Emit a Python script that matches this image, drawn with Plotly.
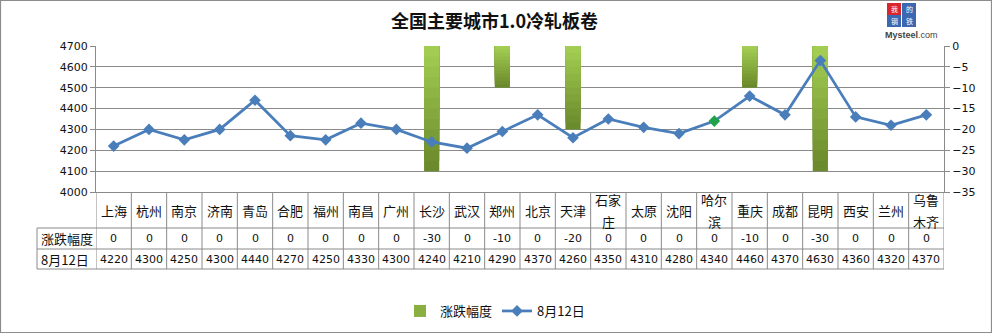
import plotly.graph_objects as go

# ---------------- data ----------------
title_text = "全国主要城市1.0冷轧板卷"
cities = ["上海", "杭州", "南京", "济南", "青岛", "合肥", "福州", "南昌", "广州", "长沙",
          "武汉", "郑州", "北京", "天津", "石家庄", "太原", "沈阳", "哈尔滨", "重庆", "成都",
          "昆明", "西安", "兰州", "乌鲁木齐"]
change_name = "涨跌幅度"
changes = [0, 0, 0, 0, 0, 0, 0, 0, 0, -30, 0, -10, 0, -20, 0, 0, 0, 0, -10, 0, -30, 0, 0, 0]
price_name = "8月12日"
prices = [4220, 4300, 4250, 4300, 4440, 4270, 4250, 4330, 4300, 4240, 4210, 4290, 4370, 4260,
          4350, 4310, 4280, 4340, 4460, 4370, 4630, 4360, 4320, 4370]
left_ticks = [4000, 4100, 4200, 4300, 4400, 4500, 4600, 4700]
right_ticks = [-35, -30, -25, -20, -15, -10, -5, 0]

# ---------------- layout constants (pixels) ----------------
W, H = 992, 334
L, R, T, B = 96, 944, 46, 192
CJK = "Noto Sans CJK SC"
NUM = "DejaVu Sans"
GRID = "#8a8a8a"


def px(x):
    return (x - L) / (R - L)


def py(y):
    return (B - y) / (B - T)


def lerp(c1, c2, t):
    a = [int(c1[i:i + 2], 16) for i in (1, 3, 5)]
    b = [int(c2[i:i + 2], 16) for i in (1, 3, 5)]
    return "#" + "".join(f"{round(a[k] + (b[k] - a[k]) * t):02x}" for k in range(3))


fig = go.Figure()

# bars with vertical gradient (dark bottom -> light top), drawn as overlaid bands
N = 12
dark, light = "#6b8a2c", "#a2cd52"
for k in range(N):
    frac = 1 - k / N
    fig.add_trace(go.Bar(
        x=cities, y=[c * frac for c in changes], yaxis="y",
        width=0.43, marker=dict(color=lerp(dark, light, k / (N - 1)), line=dict(width=0)),
        name=change_name, showlegend=(k == N // 2), legendrank=1,
        hoverinfo="skip" if k else None,
    ))

marker_colors = ["#4a7ebb"] * len(cities)
marker_colors[cities.index("哈尔滨")] = "#1fa24a"
fig.add_trace(go.Scatter(
    x=cities, y=prices, yaxis="y2", name=price_name, mode="lines+markers",
    line=dict(color="#4a7ebb", width=2.75),
    marker=dict(symbol="diamond", size=9, color=marker_colors),
    legendrank=2,
))

shapes = []
annotations = []

# table lines
rows_y = [192, 228, 249, 269]
for i in range(len(cities) + 1):
    shapes.append(dict(type="line", xref="x", yref="paper", x0=i - 0.5, x1=i - 0.5,
                       y0=py(192), y1=py(269), line=dict(color=GRID, width=1)))
shapes.append(dict(type="line", xref="paper", yref="paper", x0=px(37), x1=px(37),
                   y0=py(228), y1=py(269), line=dict(color=GRID, width=1)))
for yy in rows_y[1:]:
    shapes.append(dict(type="line", xref="paper", yref="paper", x0=px(37), x1=1,
                       y0=py(yy), y1=py(yy), line=dict(color=GRID, width=1)))


def city_lines(s):
    if len(s) <= 2:
        return [(s, 210)]
    return [(s[:2], 199), (s[2:], 221)]


for i, c in enumerate(cities):
    for txt, yy in city_lines(c):
        annotations.append(dict(x=c, y=py(yy), xref="x", yref="paper", text=txt,
                                showarrow=False, font=dict(family=CJK, size=13, color="#111"),
                                xanchor="center", yanchor="middle"))
    annotations.append(dict(x=c, y=py(238.5), xref="x", yref="paper", text=str(changes[i]),
                            showarrow=False, font=dict(family=NUM, size=11, color="#111"),
                            xanchor="center", yanchor="middle"))
    annotations.append(dict(x=c, y=py(259), xref="x", yref="paper", text=str(prices[i]),
                            showarrow=False, font=dict(family=NUM, size=11, color="#111"),
                            xanchor="center", yanchor="middle"))

annotations.append(dict(x=px(39), y=py(238.5), xref="paper", yref="paper", text=change_name,
                        showarrow=False, font=dict(family=CJK, size=13, color="#111"),
                        xanchor="left", yanchor="middle"))
annotations.append(dict(x=px(39), y=py(259), xref="paper", yref="paper", text=price_name,
                        showarrow=False, font=dict(family=CJK, size=13, color="#111"),
                        xanchor="left", yanchor="middle"))

# title
annotations.append(dict(x=px(494), y=py(20), xref="paper", yref="paper",
                        text="<b>" + title_text + "</b>", showarrow=False,
                        font=dict(family=CJK, size=18, color="#111"),
                        xanchor="center", yanchor="middle"))

# logo
logo = [("我", 887, 3, "#d8262c"), ("的", 902, 3, "#3b68b0"),
        ("钢", 887, 15, "#3b68b0"), ("铁", 902, 15, "#3b68b0")]
for ch, x0, y0, col in logo:
    shapes.append(dict(type="rect", xref="paper", yref="paper", x0=px(x0), x1=px(x0 + 14),
                       y0=py(y0), y1=py(y0 + 12), fillcolor=col, line=dict(width=0)))
    annotations.append(dict(x=px(x0 + 7), y=py(y0 + 6), xref="paper", yref="paper", text=ch,
                            showarrow=False, font=dict(family=CJK, size=7, color="white"),
                            xanchor="center", yanchor="middle", borderpad=0))
annotations.append(dict(x=px(911), y=py(35), xref="paper", yref="paper",
                        text="<b>Mysteel</b>.com", showarrow=False,
                        font=dict(family="Liberation Sans", size=9, color="#444"),
                        xanchor="center", yanchor="middle", borderpad=0))

# outer border
shapes.append(dict(type="rect", xref="paper", yref="paper", x0=px(0.5), x1=px(991.5),
                   y0=py(0.5), y1=py(332.5), line=dict(color="#8c8c8c", width=1.2),
                   fillcolor="rgba(0,0,0,0)"))

fig.update_layout(
    width=W, height=H,
    margin=dict(l=L, r=W - R, t=T, b=H - B, pad=0, autoexpand=False),
    paper_bgcolor="white", plot_bgcolor="white",
    barmode="overlay",
    xaxis=dict(type="category", range=[-0.5, len(cities) - 0.5], showticklabels=False,
               showgrid=False, zeroline=False, showline=True, linecolor=GRID, ticks=""),
    yaxis=dict(side="right", range=[-35, 0], tickvals=right_ticks, showgrid=False,
               zeroline=False, showline=True, linecolor=GRID, ticks="outside", ticklen=5,
               tickcolor=GRID, tickfont=dict(family=NUM, size=11, color="#111")),
    yaxis2=dict(side="left", overlaying="y", range=[4000, 4700], tickvals=left_ticks,
                showgrid=True, gridcolor=GRID, gridwidth=1, zeroline=False, showline=True,
                linecolor=GRID, ticks="outside", ticklen=5, tickcolor=GRID,
                tickfont=dict(family=NUM, size=11, color="#111")),
    legend=dict(orientation="h", xref="container", yref="container",
                x=495 / W, xanchor="center", y=1 - 311 / H, yanchor="middle",
                font=dict(family=CJK, size=13, color="#111"), bgcolor="rgba(0,0,0,0)",
                itemwidth=30, traceorder="normal"),
    shapes=shapes,
    annotations=annotations,
    showlegend=True,
)

fig.write_html("out.html")
